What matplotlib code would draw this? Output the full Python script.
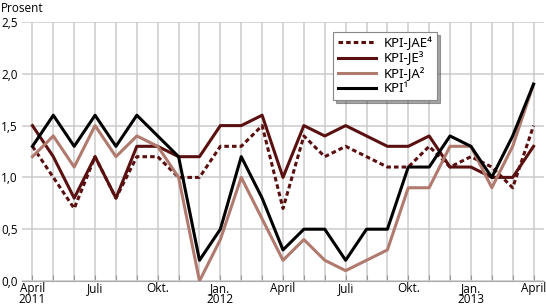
import numpy as np
import matplotlib
matplotlib.use('Agg')
import matplotlib.pyplot as plt

# months April 2011 .. April 2013
months = np.arange(25)
kpi_jae = [1.3, 1.0, 0.7, 1.2, 0.8, 1.2, 1.2, 1.0, 1.0, 1.3, 1.3, 1.5, 0.7,
           1.4, 1.2, 1.3, 1.2, 1.1, 1.1, 1.3, 1.1, 1.2, 1.1, 0.9, 1.5]
kpi_je = [1.5, 1.2, 0.8, 1.2, 0.8, 1.3, 1.3, 1.2, 1.2, 1.5, 1.5, 1.6, 1.0,
          1.5, 1.4, 1.5, 1.4, 1.3, 1.3, 1.4, 1.1, 1.1, 1.0, 1.0, 1.3]
kpi_ja = [1.2, 1.4, 1.1, 1.5, 1.2, 1.4, 1.3, 1.0, 0.0, 0.4, 1.0, 0.6, 0.2,
          0.4, 0.2, 0.1, 0.2, 0.3, 0.9, 0.9, 1.3, 1.3, 0.9, 1.3, 1.9]
kpi = [1.3, 1.6, 1.3, 1.6, 1.3, 1.6, 1.4, 1.2, 0.2, 0.5, 1.2, 0.8, 0.3,
       0.5, 0.5, 0.2, 0.5, 0.5, 1.1, 1.1, 1.4, 1.3, 1.0, 1.4, 1.9]

xlabels = {0: 'April\n2011', 3: 'Juli', 6: 'Okt.', 9: 'Jan.\n2012', 12: 'April',
           15: 'Juli', 18: 'Okt.', 21: 'Jan.\n2013', 24: 'April'}
yticks = [0.0, 0.5, 1.0, 1.5, 2.0, 2.5]

dark = '#5a1010'
light = '#b07a6e'
grid = '#cccccc'

plt.rcParams['font.family'] = ['Open Sans', 'DejaVu Sans']
plt.rcParams['font.size'] = 8.5

fig = plt.figure(figsize=(5.46, 3.08), dpi=100)
ax = fig.add_axes([22/546, 27/308, 522/546, 259/308])

lw = 2.2
ax.plot(months, kpi_jae, color=dark, lw=lw, dashes=(1.5, 1.0), label='KPI-JAE\u2074')
ax.plot(months, kpi_je, color=dark, lw=lw, label='KPI-JE\u00b3')
ax.plot(months, kpi_ja, color=light, lw=lw, label='KPI-JA\u00b2')
ax.plot(months, kpi, color='black', lw=lw, label='KPI\u00b9')

ax.set_xlim(-0.5, 24.5)
ax.set_ylim(0, 2.5)
ax.set_xticks(months)
ax.set_xticklabels([xlabels.get(m, '') for m in months], linespacing=0.85)
ax.set_yticks(yticks)
ax.set_yticklabels([f'{v:.1f}'.replace('.', ',') for v in yticks])
ax.grid(True, color=grid, lw=1.1)
ax.set_axisbelow(True)
for s in ['top', 'right', 'left']:
    ax.spines[s].set_visible(False)
ax.spines['bottom'].set_color('#aaaaaa')
ax.tick_params(axis='x', direction='in', length=4, color='#999999', pad=0.5)
ax.tick_params(axis='y', length=0, pad=3)

ax.text(-0.041, 1.028, 'Prosent', transform=ax.transAxes, ha='left', va='bottom')

leg = ax.legend(loc='upper left', bbox_to_anchor=(0.596, 0.962), frameon=True,
                fancybox=False, shadow=True, edgecolor='#888888',
                handlelength=2.9, labelspacing=0.12, borderpad=0.35,
                borderaxespad=0, handletextpad=0.6, framealpha=1,
                prop={'family': 'Noto Sans', 'size': 9.5})
leg.get_frame().set_linewidth(0.8)

fig.savefig('out.png', dpi=100)
